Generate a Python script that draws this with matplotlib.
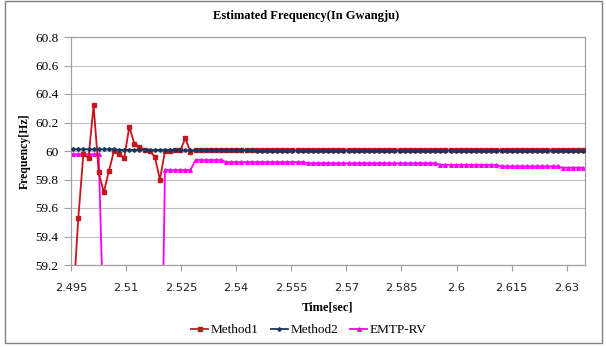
import numpy as np
import matplotlib
matplotlib.use("Agg")
import matplotlib.pyplot as plt
from matplotlib.patches import Rectangle

# ---- data -------------------------------------------------------------
# Estimates are produced 12 times per 60 Hz cycle (720 samples/s)
sample_start = 2.4956
sample_rate = 720.0

method1 = [
    58.95, 59.53, 59.98, 59.95, 60.32, 59.85, 59.71, 59.86, 60.00, 59.98,
    59.95, 60.17, 60.05, 60.03, 60.01, 60.00, 59.96, 59.80, 60.00, 60.00,
    60.005, 60.005, 60.09, 59.99, 60.01, 60.005, 60.005, 60.005, 60.005, 60.005,
    60.005, 60.005, 60.005, 60.005, 60.005, 60.005, 60.005, 60.005, 60.005, 60.005,
    60.005, 60.005, 60.005, 60.005, 60.005, 60.005, 60.005, 60.005, 60.005, 60.005,
    60.005, 60.005, 60.005, 60.005, 60.005, 60.005, 60.005, 60.005, 60.005, 60.005,
    60.005, 60.005, 60.005, 60.005, 60.005, 60.005, 60.005, 60.005, 60.005, 60.005,
    60.005, 60.005, 60.005, 60.005, 60.005, 60.005, 60.005, 60.005, 60.005, 60.005,
    60.005, 60.005, 60.005, 60.005, 60.005, 60.005, 60.005, 60.005, 60.005, 60.005,
    60.005, 60.005, 60.005, 60.005, 60.005, 60.005, 60.005, 60.005, 60.005, 60.005,
    60.005,
]

method2 = [
    60.012, 60.012, 60.012, 60.012, 60.012, 60.012, 60.012, 60.012, 60.012, 60.008,
    60.008, 60.008, 60.008, 60.008, 60.008, 60.008, 60.008, 60.008, 60.008, 60.008,
    60.008, 60.005, 60.005, 60.005, 60.005, 60.005, 60.005, 60.005, 60.005, 60.005,
    60.005, 60.005, 60.005, 60.005, 60.005, 60.005, 60.003, 60.003, 60.003, 60.003,
    60.003, 60.003, 60.003, 60.003, 60.003, 60.003, 60.003, 60.003, 60.003, 60.003,
    60.003, 60.003, 60.003, 60.003, 60.003, 60.003, 60.003, 60.003, 60.003, 60.003,
    60.003, 60.003, 60.003, 60.003, 60.003, 60.003, 60.003, 60.003, 60.003, 60.003,
    60.003, 60.003, 60.003, 60.003, 60.003, 60.003, 60.003, 60.003, 60.003, 60.003,
    60.003, 60.003, 60.003, 60.003, 60.003, 60.003, 60.003, 60.003, 60.003, 60.003,
    60.003, 60.003, 60.003, 60.003, 60.003, 60.003, 60.003, 60.003, 60.003, 60.003,
    60.003,
]

emtp_rv = [
    59.977, 59.977, 59.977, 59.977, 59.977, 59.977, 58.70, 58.40, 58.20, 58.10,
    58.00, 57.90, 57.90, 57.80, 57.80, 57.70, 57.70, 57.60, 59.867, 59.867,
    59.867, 59.867, 59.867, 59.867, 59.937, 59.937, 59.937, 59.937, 59.937, 59.937,
    59.922, 59.922, 59.922, 59.922, 59.922, 59.922, 59.922, 59.922, 59.922, 59.922,
    59.922, 59.922, 59.922, 59.922, 59.922, 59.922, 59.914, 59.914, 59.914, 59.914,
    59.914, 59.914, 59.914, 59.914, 59.914, 59.914, 59.914, 59.914, 59.914, 59.914,
    59.914, 59.914, 59.914, 59.914, 59.914, 59.914, 59.914, 59.914, 59.914, 59.914,
    59.914, 59.914, 59.903, 59.903, 59.903, 59.903, 59.903, 59.903, 59.903, 59.903,
    59.903, 59.903, 59.903, 59.903, 59.892, 59.892, 59.892, 59.892, 59.892, 59.892,
    59.892, 59.892, 59.892, 59.892, 59.892, 59.892, 59.883, 59.883, 59.883, 59.883,
    59.883,
]

x_ticks = [2.495, 2.51, 2.525, 2.54, 2.555, 2.57, 2.585, 2.6, 2.615, 2.63]
x_tick_labels = ["2.495", "2.51", "2.525", "2.54", "2.555", "2.57", "2.585", "2.6", "2.615", "2.63"]
y_ticks = [59.2, 59.4, 59.6, 59.8, 60.0, 60.2, 60.4, 60.6, 60.8]
y_tick_labels = ["59.2", "59.4", "59.6", "59.8", "60", "60.2", "60.4", "60.6", "60.8"]

time = sample_start + np.arange(len(method1)) / sample_rate

# ---- figure -----------------------------------------------------------
SERIF = "Liberation Serif"
W, H = 606, 347
fig = plt.figure(figsize=(W / 100, H / 100), dpi=100)
ax = fig.add_axes([71 / W, 1 - 265 / H, (585 - 71) / W, (265 - 37) / H])

ax.plot(time, method1, color="#C4161C", lw=1.3, marker="s", ms=3.4,
        mec="#C4161C", mfc="#C4161C", label="Method1", zorder=3)
ax.plot(time, method2, color="#17375E", lw=1.3, marker="D", ms=1.9,
        mec="#17375E", mfc="#17375E", label="Method2", zorder=4)
ax.plot(time, emtp_rv, color="#FF00FF", lw=1.3, marker="^", ms=2.6,
        mec="#FF00FF", mfc="#FF00FF", label="EMTP-RV", zorder=2)

ax.set_xlim(2.495, 2.635)
ax.set_ylim(59.2, 60.8)
ax.set_xticks(x_ticks)
ax.set_xticklabels(x_tick_labels, fontsize=8.2, family="DejaVu Sans", color="#222222")
ax.set_yticks(y_ticks)
ax.set_yticklabels(y_tick_labels, fontsize=9.5, family=SERIF)
ax.tick_params(axis="x", length=4, width=0.8, color="#a0a0a0", pad=9)
ax.tick_params(axis="y", length=5, width=0.8, color="#a0a0a0", pad=4)
ax.grid(axis="y", color="#c0c0c0", lw=0.8)
ax.set_axisbelow(True)
for s in ax.spines.values():
    s.set_color("#a0a0a0")
    s.set_linewidth(0.9)

ax.set_xlabel("Time[sec]", fontsize=9, fontweight="bold", family=SERIF, labelpad=6)
ax.set_ylabel("Frequency[Hz]", fontsize=8.5, fontweight="bold", family=SERIF, labelpad=3)

fig.text(0.505, 1 - 16 / H, "Estimated Frequency(In Gwangju)", ha="center", va="center",
         fontsize=9, fontweight="bold", family=SERIF)

fig.legend(loc="center", bbox_to_anchor=(0.51, 1 - 330 / H), ncol=3, frameon=False,
           prop={"family": SERIF, "size": 9.5}, handlelength=1.3, handletextpad=0.2,
           columnspacing=0.9, markerscale=1.0)

# outer chart frame
fig.patches.append(Rectangle((5 / W, 1 - 343 / H), 597 / W, 342 / H, transform=fig.transFigure,
                             fill=False, edgecolor="#808080", lw=1.0))

fig.savefig("out.png", dpi=100)
